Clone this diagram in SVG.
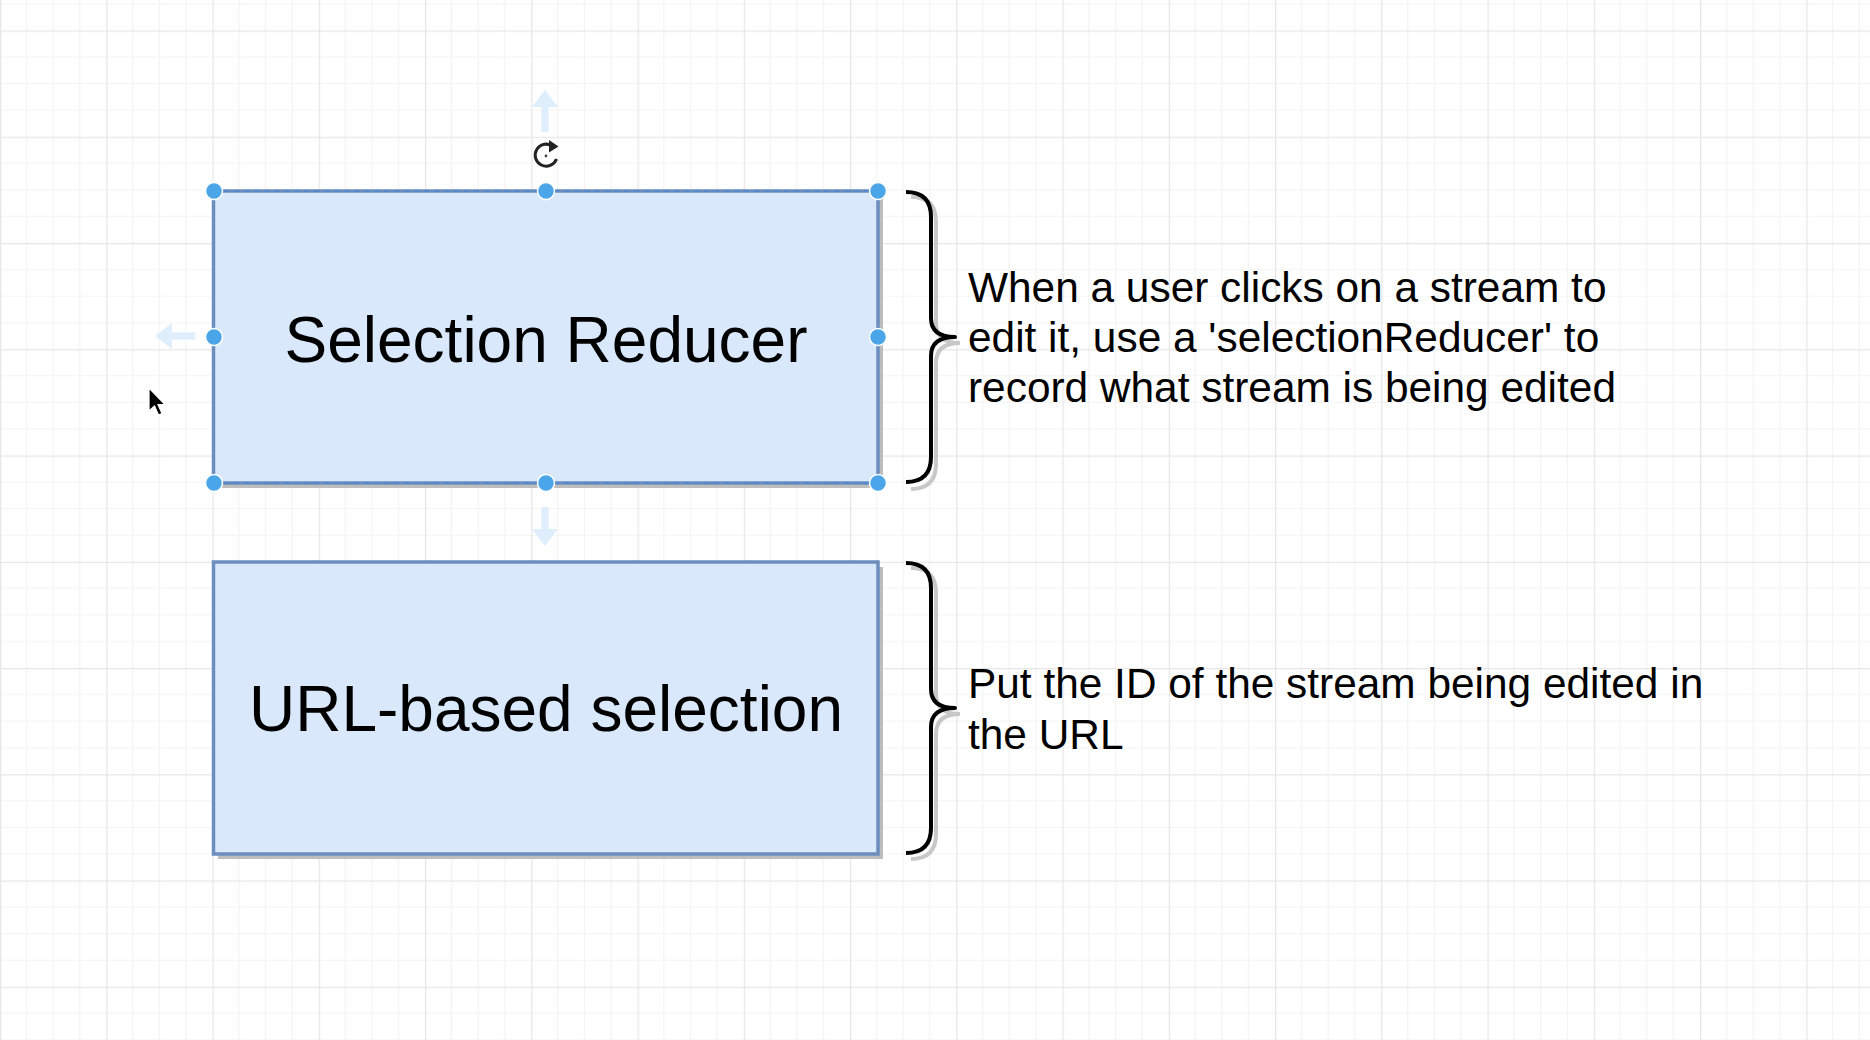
<svg xmlns="http://www.w3.org/2000/svg" width="1870" height="1040" viewBox="0 0 1870 1040">
<style>
.box{fill:#dae8fc;stroke:#6c8ebf;stroke-width:3.5}
.shadow{fill:#bdbdbd}
.label{font-family:"Liberation Sans",Arial,Helvetica,sans-serif;font-size:64px;fill:#000;text-anchor:middle}
.note{font-family:"Liberation Sans",Arial,Helvetica,sans-serif;font-size:42.4px;fill:#000}
.brace{fill:none;stroke:#000;stroke-width:4;stroke-linecap:butt;stroke-linejoin:round}
.brace-shadow{fill:none;stroke:#c8c8c8;stroke-width:4}
.handle{fill:#4aa6e8;stroke:#ffffff;stroke-width:1.5}
.hint{fill:#deeefc}
</style>
<defs>
<pattern id="grid" x="0" y="30.5" width="106.25" height="106.25" patternUnits="userSpaceOnUse">
<path d="M26.56,0V106.25M53.12,0V106.25M79.69,0V106.25M0,26.56H106.25M0,53.12H106.25M0,79.69H106.25" stroke="#f3f3f3" stroke-width="1.2" fill="none"/>
<path d="M0.5,0V106.25M0,0.5H106.25" stroke="#e6e6e6" stroke-width="1.5" fill="none"/>
</pattern>
</defs>
<rect width="1870" height="1040" fill="#ffffff"/>
<rect width="1870" height="1040" fill="url(#grid)"/>

<g id="connectors"></g>

<g id="node-selection-reducer">
<rect class="shadow" x="218" y="196" width="665" height="292"/>
<rect class="box" x="213.5" y="191" width="664.5" height="292"/>
<line x1="213.5" y1="191" x2="878" y2="191" stroke="#4d88cf" stroke-width="1.5" stroke-dasharray="6 4"/>
<line x1="213.5" y1="483" x2="878" y2="483" stroke="#4d88cf" stroke-width="1.5" stroke-dasharray="6 4"/>
<text class="label" x="546" y="362">Selection Reducer</text>
</g>

<g id="node-url-based-selection">
<rect class="shadow" x="218" y="567" width="665" height="292"/>
<rect class="box" x="213.5" y="562" width="664.5" height="292"/>
<text class="label" x="546" y="731">URL-based selection</text>
</g>

<g id="note-selection-reducer">
<path class="brace-shadow" d="M911,197 Q936,197 936,222 L936,323 Q936,343 960,343 M960,343 Q936,343 936,363 L936,464 Q936,489 911,489"/>
<path class="brace" d="M906,192 Q931,192 931,217 L931,318 Q931,337 955,337 Q931,337 931,356 L931,457 Q931,482 906,482"/>
<text class="note" x="968" y="302">When a user clicks on a stream to</text>
<text class="note" x="968" y="352">edit it, use a 'selectionReducer' to</text>
<text class="note" x="968" y="402">record what stream is being edited</text>
</g>

<g id="note-url-based-selection">
<path class="brace-shadow" d="M911,568 Q936,568 936,593 L936,694 Q936,714 960,714 M960,714 Q936,714 936,734 L936,834 Q936,859 911,859"/>
<path class="brace" d="M906,563 Q931,563 931,588 L931,689 Q931,708 955,708 Q931,708 931,727 L931,828 Q931,853 906,853"/>
<text class="note" x="968" y="698">Put the ID of the stream being edited in</text>
<text class="note" x="968" y="749">the URL</text>
</g>

<g id="selection-ui">
<polygon class="hint" points="545,90 558,107 548.5,107 548.5,132 541.5,132 541.5,107 532,107"/>
<polygon class="hint" points="155,336 172,323 172,332.5 195,332.5 195,339.5 172,339.5 172,349"/>
<polygon class="hint" points="545,546 558,529 548.5,529 548.5,507 541.5,507 541.5,529 532,529"/>
<g fill="none" stroke="#222" stroke-width="3">
<path d="M553,146.5 A11,11 0 1 0 556.5,159"/>
</g>
<polygon points="549,140 558.5,146.5 549,152.5" fill="#222"/>
<circle cx="546" cy="156" r="1.4" fill="#444"/>
<circle class="handle" cx="214" cy="191" r="8.5"/>
<circle class="handle" cx="546" cy="191" r="8.5"/>
<circle class="handle" cx="878" cy="191" r="8.5"/>
<circle class="handle" cx="214" cy="337" r="8.5"/>
<circle class="handle" cx="878" cy="337" r="8.5"/>
<circle class="handle" cx="214" cy="483" r="8.5"/>
<circle class="handle" cx="546" cy="483" r="8.5"/>
<circle class="handle" cx="878" cy="483" r="8.5"/>
<path d="M149,388 L149,411 L154.5,406 L158.5,415 L162,413.5 L158,404.5 L165,404.5 Z" fill="#000" stroke="#fff" stroke-width="1.2"/>
</g>
</svg>
